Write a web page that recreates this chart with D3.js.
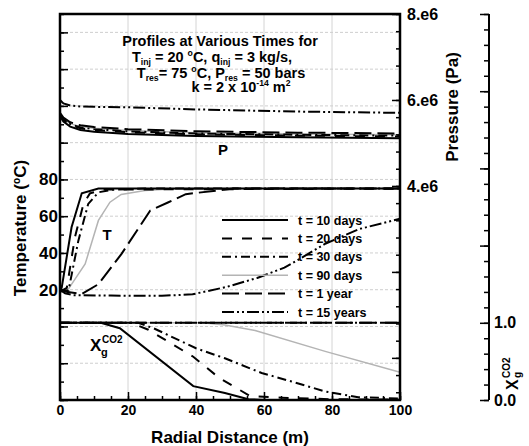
<!DOCTYPE html>
<html lang="en">
<head>
<meta charset="UTF-8">
<title>Profiles at Various Times</title>
<script src="https://cdn.jsdelivr.net/npm/d3@7"></script>
<style>
  body { margin: 0; background: #fff; }
  svg text { font-family: "Liberation Sans", Arial, sans-serif; font-weight: bold; fill: #000; }
</style>
</head>
<body>
<svg id="chart" width="529" height="446"></svg>
<script>
  // ---- data ----
  const seriesNames = ["t = 10 days", "t = 20 days", "t = 30 days", "t = 90 days", "t = 1 year", "t = 15 years"];

  // pressure (Pa) vs radial distance (m)
  const presR   = [0, 1, 3, 6, 10, 20, 40, 70, 100];
  const pres10d = [5.62e6, 5.50e6, 5.38e6, 5.30e6, 5.26e6, 5.21e6, 5.16e6, 5.13e6, 5.11e6];
  const pres20d = [5.65e6, 5.53e6, 5.42e6, 5.34e6, 5.30e6, 5.25e6, 5.20e6, 5.17e6, 5.15e6];
  const pres30d = [5.66e6, 5.55e6, 5.44e6, 5.36e6, 5.32e6, 5.27e6, 5.22e6, 5.19e6, 5.17e6];
  const pres90d = [5.67e6, 5.56e6, 5.45e6, 5.38e6, 5.34e6, 5.29e6, 5.24e6, 5.21e6, 5.19e6];
  const pres1y  = [5.70e6, 5.59e6, 5.48e6, 5.41e6, 5.37e6, 5.32e6, 5.27e6, 5.24e6, 5.22e6];
  const pres15y = [6.00e6, 5.92e6, 5.87e6, 5.85e6, 5.84e6, 5.83e6, 5.78e6, 5.73e6, 5.70e6];

  // temperature (deg C) vs radial distance (m)
  const tempR10d = [0, 0.5, 3.4, 6.4, 11.3, 100];
  const temp10d  = [20, 21, 54, 72.5, 75, 75];
  const tempR20d = [0, 2, 4.4, 6.9, 8.8, 13, 100];
  const temp20d  = [19, 21, 48.6, 66.7, 72.4, 74.5, 75];
  const tempR30d = [0, 2.5, 5.4, 8.3, 11.3, 16, 25, 100];
  const temp30d  = [19, 19.5, 46.7, 66.7, 73, 74.5, 75, 75];
  const tempR90d = [0, 2.5, 7.4, 11.3, 14.7, 18, 25, 35, 100];
  const temp90d  = [19, 20.4, 34, 57.7, 67.6, 71.8, 74, 75, 75];
  const tempR1y  = [0, 1.3, 6.4, 11.3, 18.1, 26.5, 31.9, 37, 51, 100];
  const temp1y   = [20, 19, 17.7, 23, 39.5, 63, 67.6, 72, 75, 75];
  const tempR15y = [0, 1.5, 4, 15, 30, 39, 49, 58, 66, 72, 78, 88, 100];
  const temp15y  = [20, 18, 17, 16.8, 16.7, 17.5, 21.5, 26.4, 32, 38.4, 45, 53, 58.6];

  // gas CO2 mass fraction vs radial distance (m)
  const xgR10d = [0, 12, 17.6, 39.2, 48.5, 55.4, 60, 100];
  const xg10d  = [1, 1, 0.93, 0.18, 0.09, 0.01, 0, 0];
  const xgR20d = [0, 21, 26, 39.2, 47, 56, 65, 80, 100];
  const xg20d  = [1, 1, 0.91, 0.56, 0.28, 0.05, 0.03, 0.01, 0.005];
  const xgR30d = [0, 23, 28, 40, 48.5, 59.3, 68.1, 78, 87.7, 100];
  const xg30d  = [1, 1, 0.92, 0.67, 0.54, 0.35, 0.24, 0.11, 0.035, 0.02];
  const xgR90d = [0, 42, 48.5, 57.4, 78, 100];
  const xg90d  = [1, 1, 0.97, 0.9, 0.63, 0.36];
  const xgR1y  = [0, 100];
  const xg1y   = [1, 1];
  const xgR15y = [0, 100];
  const xg15y  = [1, 1];

  const xTicks = [0, 20, 40, 60, 80, 100];
  const tempTickLabels = [20, 40, 60, 80];
  const presTickLabels = [4e6, 6e6, 8e6];
  const xgTickLabels = [0, 1];

  // ---- styles ----
  const dashes = [null, "10,10", "9,4,2,4", null, "17,6", "12,3,2,3,2,3"];
  const colors = ["#000", "#000", "#000", "#b4b4b4", "#000", "#000"];
  const widths = [2, 2, 2, 1.5, 2, 2];
  const drawOrder = [3, 0, 1, 2, 4, 5];

  const svg = d3.select("#chart");
  const x  = d3.scaleLinear().domain([0, 100]).range([60, 400]);
  const yT = d3.scaleLinear().domain([-40, 170]).range([400, 14]);
  const yP = d3.scaleLinear().domain([-0.98e6, 8e6]).range([400, 14]);
  const yX = d3.scaleLinear().domain([0, 5]).range([400, 14]);

  // grid
  svg.append("g").selectAll("line").data([20, 40, 60, 80]).join("line")
    .attr("x1", d => x(d)).attr("x2", d => x(d)).attr("y1", 14).attr("y2", 400)
    .attr("stroke", "#d4d4d4").attr("stroke-width", 1);
  svg.append("g").selectAll("line").data(d3.range(-20, 161, 20)).join("line")
    .attr("x1", 60).attr("x2", 400).attr("y1", d => yT(d)).attr("y2", d => yT(d))
    .attr("stroke", "#cfcfcf").attr("stroke-width", 1).attr("stroke-dasharray", "3,2");

  // curves
  const presSets = [pres10d, pres20d, pres30d, pres90d, pres1y, pres15y];
  const tempSets = [[tempR10d, temp10d], [tempR20d, temp20d], [tempR30d, temp30d],
                    [tempR90d, temp90d], [tempR1y, temp1y], [tempR15y, temp15y]];
  const xgSets = [[xgR10d, xg10d], [xgR20d, xg20d], [xgR30d, xg30d],
                  [xgR90d, xg90d], [xgR1y, xg1y], [xgR15y, xg15y]];

  function drawCurve(rs, vs, yScale, i) {
    const line = d3.line().x(d => x(d[0])).y(d => yScale(d[1]));
    svg.append("path").datum(d3.zip(rs, vs))
      .attr("d", line).attr("fill", "none")
      .attr("stroke", colors[i]).attr("stroke-width", widths[i])
      .attr("stroke-dasharray", dashes[i]);
  }
  drawOrder.forEach(i => {
    drawCurve(presR, presSets[i], yP, i);
    drawCurve(tempSets[i][0], tempSets[i][1], yT, i);
    drawCurve(xgSets[i][0], xgSets[i][1], yX, i);
  });

  // axes
  function styleAxis(g, size) {
    g.select(".domain").remove();
    g.selectAll(".tick line").attr("stroke", "#000").attr("stroke-width", 1.5);
    g.selectAll("text").style("font-size", size + "px").attr("fill", "#000");
  }
  svg.append("g").attr("transform", "translate(0,400)")
    .call(d3.axisBottom(x).tickValues(d3.range(0, 101, 5)).tickSize(-4).tickFormat(""))
    .call(g => styleAxis(g, 14));
  svg.append("g").attr("transform", "translate(0,400)")
    .call(d3.axisBottom(x).tickValues(xTicks).tickSize(-8).tickPadding(5))
    .call(g => styleAxis(g, 14));

  svg.append("g").attr("transform", "translate(60,0)")
    .call(d3.axisLeft(yT).tickValues(d3.range(-40, 171, 10)).tickSize(-4).tickFormat(""))
    .call(g => styleAxis(g, 17));
  svg.append("g").attr("transform", "translate(60,0)")
    .call(d3.axisLeft(yT).tickValues(d3.range(-40, 161, 20)).tickSize(-8).tickPadding(2)
      .tickFormat(d => tempTickLabels.includes(d) ? d : ""))
    .call(g => styleAxis(g, 17));

  svg.append("g").attr("transform", "translate(400,0)")
    .call(d3.axisRight(yP).tickValues(d3.range(-0.8e6, 8.01e6, 0.4e6)).tickSize(-4).tickFormat(""))
    .call(g => styleAxis(g, 16));
  svg.append("g").attr("transform", "translate(400,0)")
    .call(d3.axisRight(yP).tickValues([0, 2e6, 4e6, 6e6, 8e6]).tickSize(-8).tickPadding(7)
      .tickFormat(d => presTickLabels.includes(d) ? (d / 1e6) + ".e6" : ""))
    .call(g => styleAxis(g, 16));

  svg.append("g").attr("transform", "translate(489,0)")
    .call(d3.axisRight(yX).tickValues(d3.range(0, 5.01, 0.2)).tickSize(-5).tickFormat(""))
    .call(g => styleAxis(g, 16));
  svg.append("g").attr("transform", "translate(489,0)")
    .call(d3.axisRight(yX).tickValues([0, 1, 2, 3, 4, 5]).tickSize(-9).tickPadding(5)
      .tickFormat(d => xgTickLabels.includes(d) ? d.toFixed(1) : ""))
    .call(g => styleAxis(g, 16));

  // frame and outer axis line
  svg.append("rect").attr("x", 60).attr("y", 14).attr("width", 340).attr("height", 386)
    .attr("fill", "none").attr("stroke", "#000").attr("stroke-width", 2.5);
  svg.append("line").attr("x1", 489).attr("x2", 489).attr("y1", 14).attr("y2", 400)
    .attr("stroke", "#000").attr("stroke-width", 2);

  // text with sub/superscripts
  function richText(parent, px, py, parts, size, anchor) {
    const t = parent.append("text").attr("x", px).attr("y", py)
      .attr("text-anchor", anchor).style("font-size", size + "px");
    let off = 0;
    parts.forEach(p => {
      const target = p[1] === "sub" ? 0.22 * size : p[1] === "sup" ? -0.38 * size : 0;
      const s = t.append("tspan").text(p[0]).attr("dy", target - off);
      if (p[1]) s.style("font-size", (size * 0.6) + "px");
      off = target;
    });
    return t;
  }

  richText(svg, 220, 46, [["Profiles at Various Times for"]], 14.5, "middle");
  richText(svg, 212, 62, [["T"], ["inj", "sub"], [" = 20 "], ["o", "sup"], ["C, q"], ["inj", "sub"], [" = 3 kg/s,"]], 14.5, "middle");
  richText(svg, 221, 77.5, [["T"], ["res", "sub"], ["= 75 "], ["o", "sup"], ["C, P"], ["res", "sub"], [" = 50 bars"]], 14.5, "middle");
  richText(svg, 241, 91.5, [["k = 2 x 10"], ["-14", "sup"], [" m"], ["2", "sup"]], 14.5, "middle");

  richText(svg, 223, 155, [["P"]], 15, "middle");
  richText(svg, 107, 240, [["T"]], 15, "middle");

  // X_g^CO2 label inside plot
  svg.append("text").attr("x", 90).attr("y", 351).style("font-size", "17px").text("X");
  svg.append("text").attr("x", 101).attr("y", 356).style("font-size", "11px").text("g");
  svg.append("text").attr("x", 102).attr("y", 343).style("font-size", "10px").text("CO2");

  // axis titles
  svg.append("text").attr("x", 230).attr("y", 443).attr("text-anchor", "middle")
    .style("font-size", "17px").text("Radial Distance (m)");
  const tl = svg.append("g").attr("transform", "translate(26,228) rotate(-90)");
  richText(tl, 0, 0, [["Temperature ("], ["o", "sup"], ["C)"]], 17, "middle");
  svg.append("text").attr("transform", "translate(458,107) rotate(-90)")
    .attr("text-anchor", "middle").style("font-size", "17px").text("Pressure (Pa)");
  const xl = svg.append("g").attr("transform", "translate(518,390) rotate(-90)");
  xl.append("text").attr("x", 0).attr("y", 0).style("font-size", "16px").text("X");
  xl.append("text").attr("x", 12).attr("y", 3).style("font-size", "10px").text("g");
  xl.append("text").attr("x", 12).attr("y", -8).style("font-size", "10px").text("CO2");

  // legend
  const leg = svg.append("g");
  seriesNames.forEach((name, i) => {
    const ly = 220 + i * 18.4;
    leg.append("line").attr("x1", 222).attr("x2", 288).attr("y1", ly).attr("y2", ly)
      .attr("stroke", colors[i]).attr("stroke-width", widths[i])
      .attr("stroke-dasharray", dashes[i]);
    leg.append("text").attr("x", 298).attr("y", ly).attr("dy", "0.36em")
      .style("font-size", "12.5px").text(name);
  });
</script>
</body>
</html>
